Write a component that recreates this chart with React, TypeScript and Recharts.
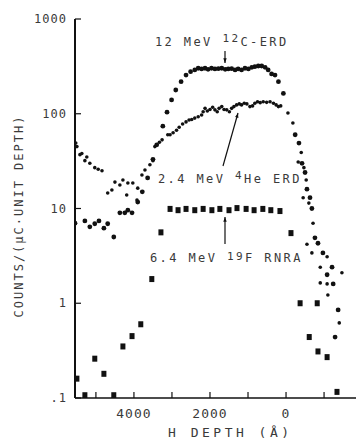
import React from "react";
import { ScatterChart, Scatter, XAxis, YAxis } from "recharts";

// [H depth (Å), counts]
const carbonErd: [number, number][] = [
  [5550, 7.0], [5290, 7.4], [5160, 6.4], [5030, 6.9], [4920, 7.4], [4790, 6.2], [4690, 6.9],
  [4530, 5.0], [4370, 9.0], [4240, 9.0], [4160, 9.6], [4050, 9.0], [3900, 11.7], [3780, 15],
  [3640, 21], [3500, 33], [3400, 47], [3240, 74], [3130, 104], [3010, 140], [2900, 178],
  [2760, 218], [2630, 256], [2510, 278], [2400, 290], [2310, 302], [2220, 297], [2130, 302],
  [2050, 294], [1960, 302], [1870, 297], [1780, 299], [1690, 302], [1600, 294], [1520, 297],
  [1430, 299], [1340, 290], [1260, 297], [1170, 290], [1080, 302], [990, 297], [900, 309],
  [820, 314], [730, 319], [640, 319], [550, 309], [470, 290], [380, 263], [290, 256],
  [200, 218], [70, 164], [-240, 60], [-340, 49], [-420, 30], [-500, 24], [-550, 16],
  [-630, 13], [-680, 10], [-760, 4.9], [-840, 4.3], [-970, 3.4], [-1080, 2.0], [-1210, 2.4],
  [-1240, 1.6], [-1370, 0.85], [-1290, 0.44],
];

const heliumErd: [number, number][] = [
  [5530, 49], [5500, 45], [5420, 37], [5370, 38], [5290, 32], [5240, 35], [5160, 30],
  [5030, 27], [4940, 26], [4840, 25], [4690, 14.6], [4580, 15.7], [4500, 19], [4370, 17.7],
  [4290, 20], [4190, 13.9], [4160, 18.6], [4030, 18.6], [3920, 12.3], [3900, 16.4],
  [3790, 22.6], [3710, 25.5], [3580, 29], [3500, 32], [3450, 45], [3330, 50], [3260, 53],
  [3110, 60], [3050, 60], [2970, 63], [2880, 67], [2810, 72], [2720, 78], [2630, 82],
  [2550, 86], [2480, 87], [2400, 90], [2310, 93], [2220, 97], [2180, 105], [2130, 114],
  [2070, 107], [2000, 111], [1930, 117], [1870, 110], [1810, 105], [1760, 114], [1690, 119],
  [1630, 111], [1560, 110], [1490, 105], [1430, 114], [1370, 119], [1300, 124], [1230, 127],
  [1170, 124], [1100, 129], [1030, 127], [950, 119], [880, 121], [820, 129], [750, 134],
  [680, 131], [600, 134], [510, 132], [420, 134], [330, 129], [260, 124], [200, 119],
  [140, 121], [-50, 102], [-180, 80], [-320, 31], [-400, 39], [-470, 27], [-530, 20],
  [-450, 13], [-600, 11.4], [-710, 7.0], [-550, 4.2], [-680, 3.4], [-900, 2.4], [-1080, 3.1],
  [-1470, 2.1], [-900, 1.64], [-1080, 1.6], [-1100, 1.22], [-1400, 0.62],
];

const fluorineRnra: [number, number][] = [
  [5500, 0.16], [5290, 0.107], [5030, 0.26], [4790, 0.18], [4530, 0.107], [4290, 0.35],
  [4050, 0.45], [3820, 0.6], [3530, 1.8], [3290, 5.6], [3050, 9.9], [2840, 9.6], [2630, 9.9],
  [2400, 9.6], [2180, 9.9], [1950, 9.6], [1740, 9.9], [1500, 9.6], [1290, 10.1], [1050, 9.9],
  [840, 9.6], [610, 9.9], [400, 9.6], [160, 9.4], [-130, 5.5], [-370, 1.0], [-820, 1.0],
  [-610, 0.44], [-840, 0.31], [-1080, 0.27], [-1340, 0.116],
];

const depthTicks = [5000, 4000, 3000, 2000, 1000, 0, -1000];
const depthLabels = ["", "4000", "", "2000", "", "0", ""];
const countTicks = [0.1, 1, 10, 100, 1000];
const countLabels = [".1", "1", "10", "100", "1000"];

const FONT = "'DejaVu Sans Mono', monospace";
const INK = "#111";
const TEXT = "#3a3a3a";

const toPoints = (rows: [number, number][]) => rows.map(([depth, counts]) => ({ depth, counts }));

function BottomTick({ x, y, payload }: any) {
  const label = depthLabels[depthTicks.indexOf(payload.value)];
  return (
    <g>
      <line x1={x} y1={y} x2={x} y2={y - 6} stroke={INK} strokeWidth={1.2} />
      {label ? (
        <text x={x} y={y + 20} textAnchor="middle" fontFamily={FONT} fontSize={13} letterSpacing={1} fill={TEXT}>
          {label}
        </text>
      ) : null}
    </g>
  );
}

function TopTick({ x, y }: any) {
  return <line x1={x} y1={y} x2={x} y2={y + 6} stroke={INK} strokeWidth={1.2} />;
}

function CountTick({ x, y, payload }: any) {
  const label = countLabels[countTicks.indexOf(payload.value)];
  return (
    <g>
      <line x1={x} y1={y} x2={x + 6} y2={y} stroke={INK} strokeWidth={1.2} />
      <text x={x - 8} y={y + 4} textAnchor="end" fontFamily={FONT} fontSize={12} letterSpacing={1} fill={TEXT}>
        {label}
      </text>
    </g>
  );
}

const dot = (r: number) => (p: any) => <circle cx={p.cx} cy={p.cy} r={r} fill={INK} />;
const square = (p: any) => <rect x={p.cx - 2.5} y={p.cy - 3} width={5} height={6} fill={INK} />;

function Arrow({ x1, y1, x2, y2 }: { x1: number; y1: number; x2: number; y2: number }) {
  // head drawn at (x2, y2)
  const a = Math.atan2(y2 - y1, x2 - x1);
  const h = 5;
  const p1 = [x2 - h * Math.cos(a - 0.35), y2 - h * Math.sin(a - 0.35)];
  const p2 = [x2 - h * Math.cos(a + 0.35), y2 - h * Math.sin(a + 0.35)];
  return (
    <g>
      <line x1={x1} y1={y1} x2={x2} y2={y2} stroke={INK} strokeWidth={1.2} />
      <polygon points={`${x2},${y2} ${p1[0]},${p1[1]} ${p2[0]},${p2[1]}`} fill={INK} />
    </g>
  );
}

export default function App() {
  const labelStyle = { fontFamily: FONT, fontSize: 12, letterSpacing: 2.4, fill: TEXT };
  return (
    <div style={{ position: "absolute", left: 0, top: 0, width: 356, height: 444, background: "#fff" }}>
      <ScatterChart width={356} height={444} margin={{ top: 19, right: 0, bottom: 0, left: 0 }}>
        <XAxis
          xAxisId="bottom"
          type="number"
          dataKey="depth"
          domain={[-1840, 5550]}
          reversed
          allowDataOverflow
          ticks={depthTicks}
          interval={0}
          tickSize={0}
          tickMargin={0}
          tickLine={false}
          tick={(p: any) => <BottomTick {...p} />}
          height={46}
          axisLine={{ stroke: INK, strokeWidth: 1.4 }}
        />
        <XAxis
          xAxisId="top"
          orientation="top"
          type="number"
          dataKey="depth"
          domain={[-1840, 5550]}
          reversed
          allowDataOverflow
          ticks={depthTicks}
          interval={0}
          tickSize={0}
          tickMargin={0}
          tickLine={false}
          tick={(p: any) => <TopTick {...p} />}
          height={0}
          axisLine={{ stroke: INK, strokeWidth: 1.4 }}
        />
        <YAxis
          type="number"
          dataKey="counts"
          scale="log"
          domain={[0.1, 1000]}
          allowDataOverflow
          ticks={countTicks}
          interval={0}
          tickSize={0}
          tickMargin={0}
          tickLine={false}
          tick={(p: any) => <CountTick {...p} />}
          width={75}
          axisLine={{ stroke: INK, strokeWidth: 2 }}
        />
        <Scatter xAxisId="bottom" data={toPoints(fluorineRnra)} shape={square} isAnimationActive={false} />
        <Scatter xAxisId="bottom" data={toPoints(carbonErd)} shape={dot(2.4)} isAnimationActive={false} />
        <Scatter xAxisId="bottom" data={toPoints(heliumErd)} shape={dot(1.8)} isAnimationActive={false} />
      </ScatterChart>
      <svg width={356} height={444} style={{ position: "absolute", left: 0, top: 0, pointerEvents: "none" }}>
        <text {...labelStyle} x={155} y={46}>
          12 MeV <tspan fontSize={11} dy={-4}>12</tspan>
          <tspan dy={4}>C-ERD</tspan>
        </text>
        <Arrow x1={225} y1={51} x2={225} y2={63} />
        <text {...labelStyle} x={158} y={183}>
          2.4 MeV <tspan fontSize={11} dy={-4}>4</tspan>
          <tspan dy={4}>He ERD</tspan>
        </text>
        <Arrow x1={223} y1={166} x2={238} y2={113} />
        <text {...labelStyle} x={150} y={262}>
          6.4 MeV <tspan fontSize={11} dy={-2}>19</tspan>
          <tspan dy={2}>F RNRA</tspan>
        </text>
        <Arrow x1={225} y1={244} x2={225} y2={217} />
        <text
          x={23}
          y={216}
          transform="rotate(-90 23 216)"
          textAnchor="middle"
          fontFamily={FONT}
          fontSize={12}
          letterSpacing={2}
          fill={TEXT}
        >
          COUNTS/(μC·UNIT DEPTH)
        </text>
        <text x={168} y={437} fontFamily={FONT} fontSize={13} letterSpacing={3.5} fill={TEXT}>
          H DEPTH (Å)
        </text>
      </svg>
    </div>
  );
}
